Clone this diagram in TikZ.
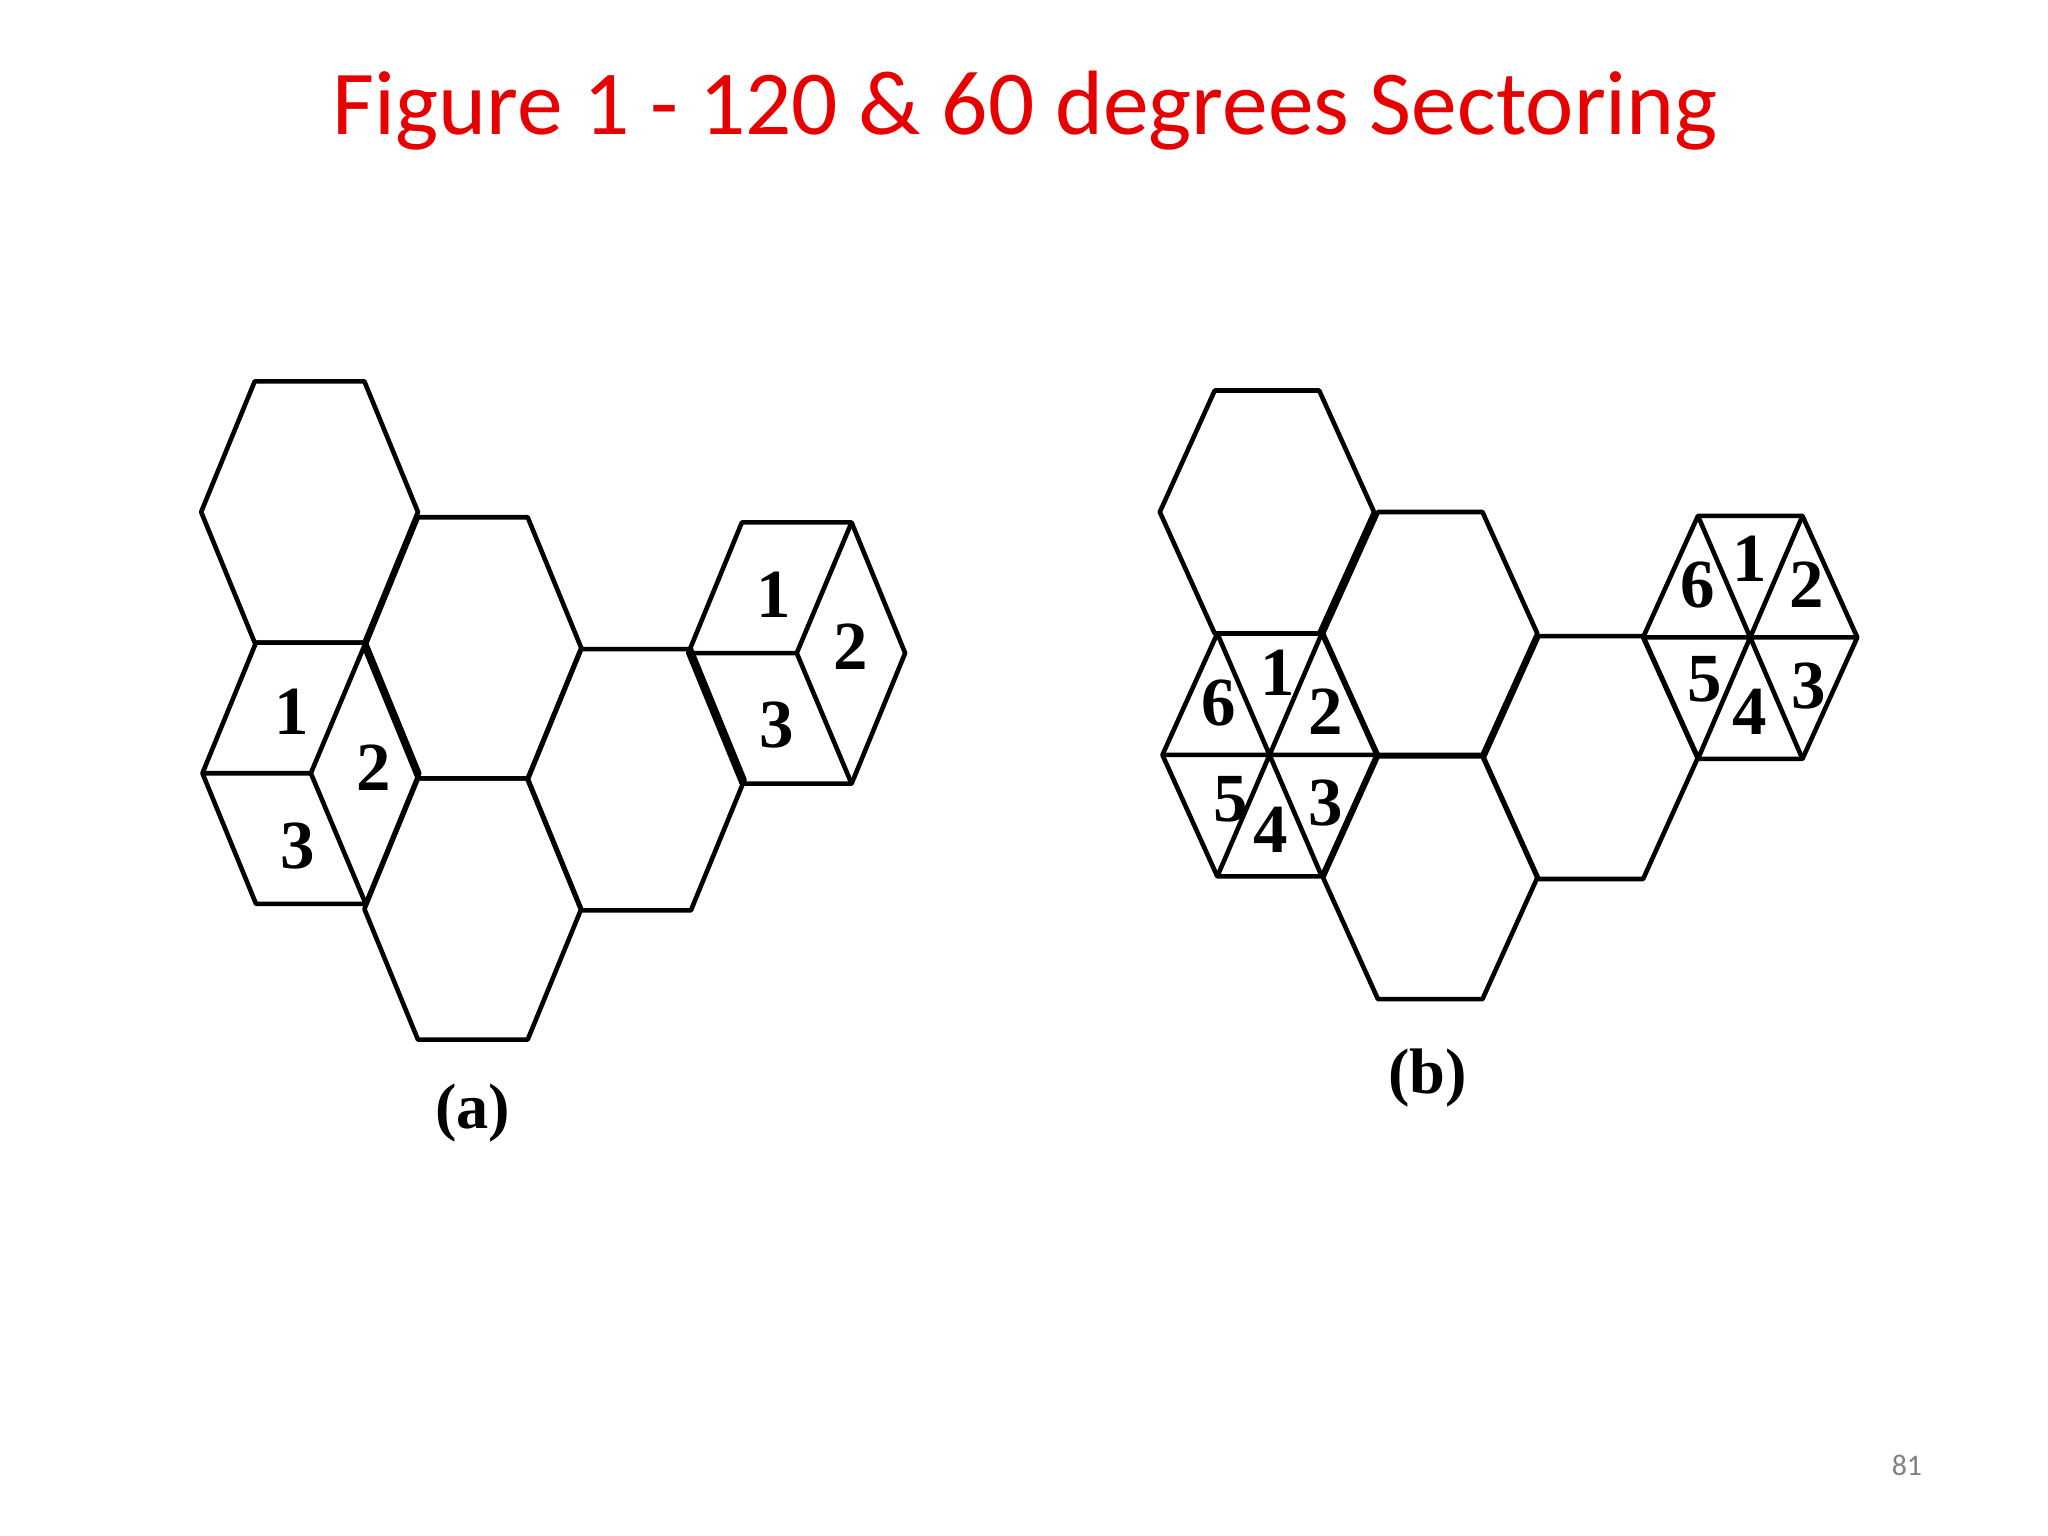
\documentclass[tikz,border=0pt]{standalone}
\usepackage{fontspec}
\setmainfont{Liberation Serif}
\newfontfamily\titlefont{Carlito}
\definecolor{titlered}{RGB}{230,0,0}
\tikzset{cell/.style={line width=1pt,line join=round},
  num/.style={font=\fontsize{15}{15}\selectfont\bfseries},
  figlabel/.style={font=\fontsize{14}{14}\selectfont\bfseries}}
% hexagon: center x, center y, half width, half top edge, half height
\newcommand\hexcell[5]{%
  \draw[cell] ({#1-#3},{#2})--({#1-#4},{#2-#5})--({#1+#4},{#2-#5})--({#1+#3},{#2})--({#1+#4},{#2+#5})--({#1-#4},{#2+#5})--cycle;}
\newcommand\threesec[5]{%
  \draw[cell] ({#1-#3},{#2})--(#1,#2)--({#1+#4},{#2-#5}) (#1,#2)--({#1+#4},{#2+#5});}
\newcommand\sixsec[5]{%
  \draw[cell] ({#1-#3},{#2})--({#1+#3},{#2}) ({#1-#4},{#2-#5})--({#1+#4},{#2+#5}) ({#1+#4},{#2-#5})--({#1-#4},{#2+#5});}
\begin{document}
\begin{tikzpicture}[x=0.01cm,y=-0.01cm]
\useasboundingbox (0,0) rectangle (1568,1176);
\node[text=titlered,font=\titlefont\fontsize{19.9}{20}\selectfont] (title) at (785,85) {Figure 1 - 120 \& 60 degrees Sectoring};
\node[text=gray,font=\titlefont\fontsize{6.5}{6.5}\selectfont] (page) at (1460,1122) {81};
% (a)
\foreach \cx/\cy in {237/392,362/496,238/592,362/696,487/597,610/500}{\hexcell{\cx}{\cy}{83}{42}{100}}
\threesec{238}{592}{83}{42}{100}
\threesec{610}{500}{83}{42}{100}
\node[num] (a1) at (223,545) {1};
\node[num] (a2) at (286,588) {2};
\node[num] (a3) at (228,648) {3};
\node[num] (b1) at (592,455) {1};
\node[num] (b2) at (651,495) {2};
\node[num] (b3) at (595,555) {3};
\node[figlabel] (la) at (362,852) {(a)};
% (b)
\foreach \cx/\cy in {970/392,1095/485,972/578,1095/672,1218/580,1340/488}{\hexcell{\cx}{\cy}{82}{40}{93}}
\sixsec{972}{578}{82}{40}{93}
\sixsec{1340}{488}{82}{40}{93}
\node[num] (c6) at (933,538) {6};
\node[num] (c1) at (978,515) {1};
\node[num] (c2) at (1015,545) {2};
\node[num] (c5) at (942,612) {5};
\node[num] (c4) at (973,635) {4};
\node[num] (c3) at (1015,615) {3};
\node[num] (d6) at (1300,448) {6};
\node[num] (d1) at (1340,428) {1};
\node[num] (d2) at (1383,448) {2};
\node[num] (d5) at (1305,520) {5};
\node[num] (d4) at (1340,545) {4};
\node[num] (d3) at (1385,525) {3};
\node[figlabel] (lb) at (1093,825) {(b)};
\end{tikzpicture}
\end{document}
